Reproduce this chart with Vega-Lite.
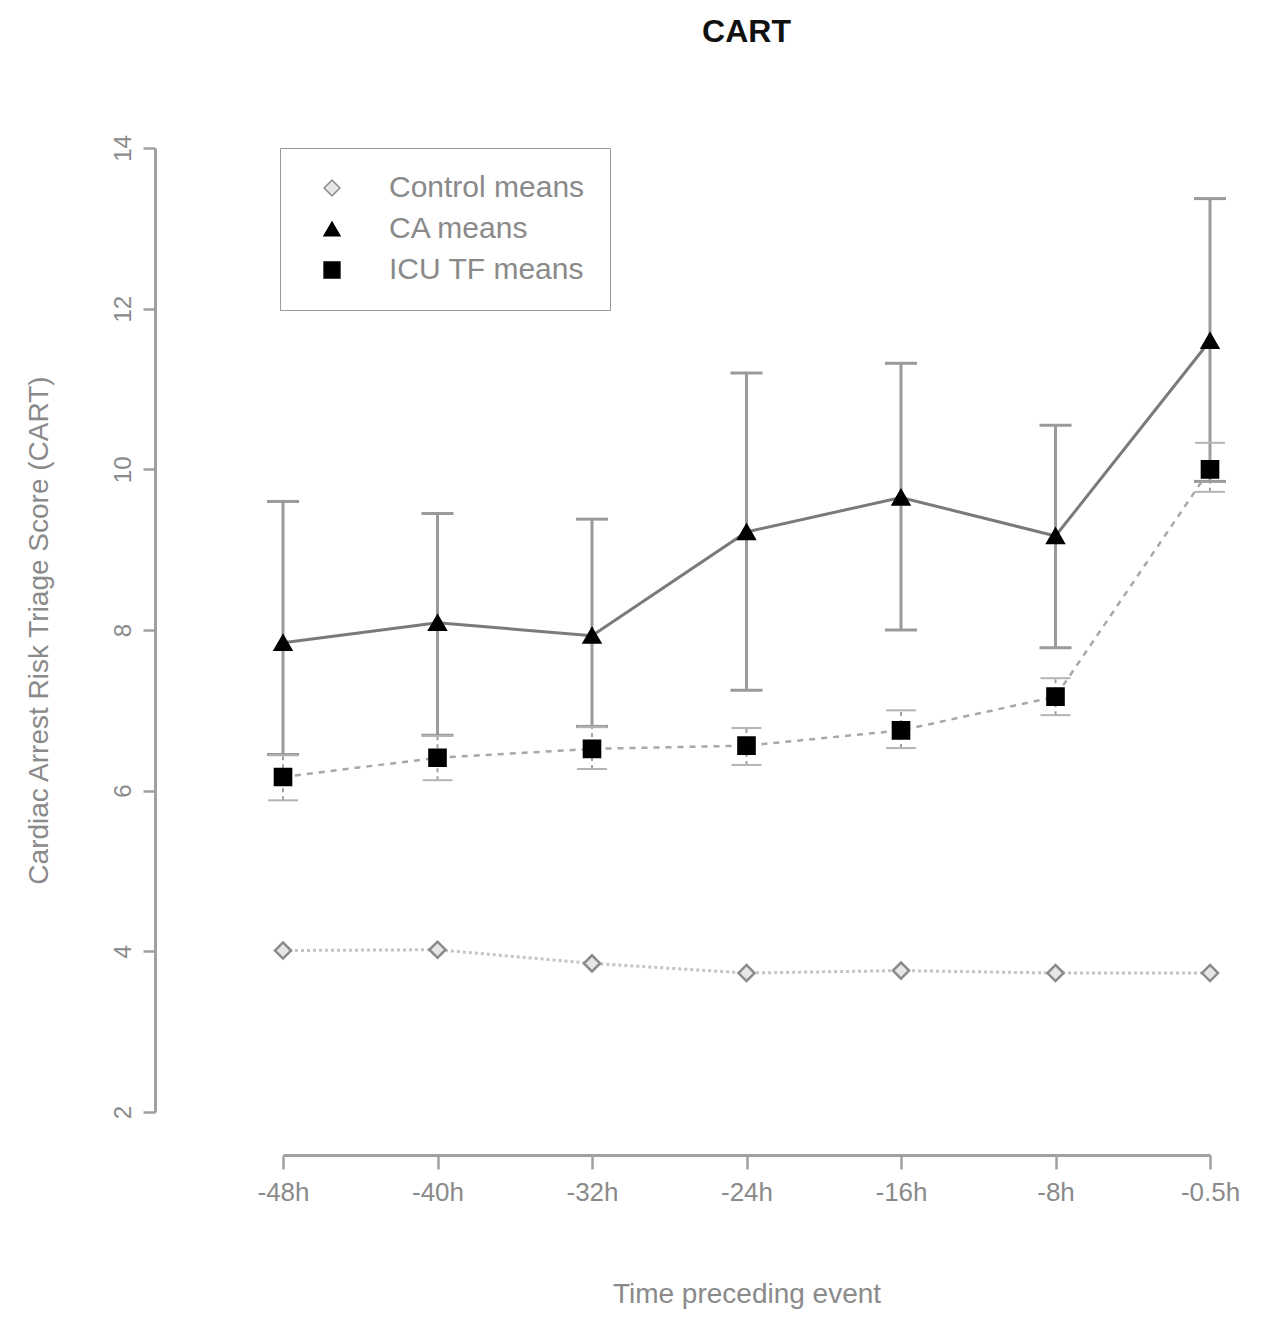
{
  "$schema": "https://vega.github.io/schema/vega-lite/v6.json",
  "width": 927,
  "height": 964,
  "autosize": {"type": "none"},
  "padding": {"left": 283, "top": 148, "right": 54, "bottom": 207},
  "background": "white",
  "title": {"text": "CART", "fontSize": 32, "fontWeight": "bold", "font": "Liberation Sans", "color": "#111111", "offset": 86, "anchor": "middle", "frame": "group"},
  "config": {
    "view": {"stroke": null},
    "font": "Liberation Sans"
  },
  "data": {"values": [
    {"time": "-48h", "series": "Control means", "mean": 4.01},
    {"time": "-40h", "series": "Control means", "mean": 4.02},
    {"time": "-32h", "series": "Control means", "mean": 3.85},
    {"time": "-24h", "series": "Control means", "mean": 3.73},
    {"time": "-16h", "series": "Control means", "mean": 3.76},
    {"time": "-8h", "series": "Control means", "mean": 3.73},
    {"time": "-0.5h", "series": "Control means", "mean": 3.73},
    {"time": "-48h", "series": "CA means", "mean": 7.84, "lo": 6.45, "hi": 9.6},
    {"time": "-40h", "series": "CA means", "mean": 8.09, "lo": 6.69, "hi": 9.45},
    {"time": "-32h", "series": "CA means", "mean": 7.93, "lo": 6.8, "hi": 9.38},
    {"time": "-24h", "series": "CA means", "mean": 9.22, "lo": 7.25, "hi": 11.2},
    {"time": "-16h", "series": "CA means", "mean": 9.65, "lo": 8.0, "hi": 11.32},
    {"time": "-8h", "series": "CA means", "mean": 9.17, "lo": 7.78, "hi": 10.55},
    {"time": "-0.5h", "series": "CA means", "mean": 11.6, "lo": 9.85, "hi": 13.37},
    {"time": "-48h", "series": "ICU TF means", "mean": 6.17, "lo": 5.88, "hi": 6.44},
    {"time": "-40h", "series": "ICU TF means", "mean": 6.41, "lo": 6.13, "hi": 6.68},
    {"time": "-32h", "series": "ICU TF means", "mean": 6.52, "lo": 6.27, "hi": 6.79},
    {"time": "-24h", "series": "ICU TF means", "mean": 6.56, "lo": 6.32, "hi": 6.78},
    {"time": "-16h", "series": "ICU TF means", "mean": 6.75, "lo": 6.53, "hi": 7.0},
    {"time": "-8h", "series": "ICU TF means", "mean": 7.17, "lo": 6.94, "hi": 7.4},
    {"time": "-0.5h", "series": "ICU TF means", "mean": 10.0, "lo": 9.72, "hi": 10.33}
  ]},
  "encoding": {
    "x": {
      "field": "time", "type": "ordinal",
      "sort": ["-48h", "-40h", "-32h", "-24h", "-16h", "-8h", "-0.5h"],
      "scale": {"type": "point", "padding": 0},
      "axis": {
        "title": "Time preceding event", "offset": 43, "grid": false,
        "domainColor": "#a0a0a0", "domainWidth": 3,
        "tickColor": "#a0a0a0", "tickWidth": 2.5, "tickSize": 14,
        "labelFontSize": 26, "labelColor": "#8a8a8a", "labelPadding": 10, "labelAngle": 0,
        "titleFontSize": 28, "titleColor": "#8a8a8a", "titleFontWeight": "normal", "titlePadding": 75
      }
    }
  },
  "layer": [
    {
      "transform": [{"filter": "datum.series == 'CA means'"}],
      "mark": {"type": "rule", "color": "#9a9a9a", "strokeWidth": 3},
      "encoding": {
        "y": {"field": "lo", "type": "quantitative", "scale": {"domain": [2, 14], "nice": false, "zero": false},
          "axis": {
            "title": "Cardiac Arrest Risk Triage Score (CART)", "offset": 128, "grid": false,
            "values": [2, 4, 6, 8, 10, 12, 14], "format": "d",
            "domainColor": "#a0a0a0", "domainWidth": 3,
            "tickColor": "#a0a0a0", "tickWidth": 2.5, "tickSize": 12,
            "labelFontSize": 24, "labelColor": "#8a8a8a", "labelAngle": 270, "labelAlign": "center", "labelBaseline": "bottom", "labelPadding": 8,
            "titleFontSize": 28, "titleColor": "#8a8a8a", "titleFontWeight": "normal", "titlePadding": 58
          }},
        "y2": {"field": "hi"}
      }
    },
    {
      "transform": [{"filter": "datum.series == 'ICU TF means'"}],
      "mark": {"type": "rule", "color": "#a0a0a0", "strokeWidth": 2, "strokeDash": [4, 4]},
      "encoding": {
        "y": {"field": "lo", "type": "quantitative"},
        "y2": {"field": "hi"}
      }
    },
    {
      "transform": [{"filter": "datum.series == 'CA means'"}, {"fold": ["lo", "hi"], "as": ["end", "val"]}],
      "mark": {"type": "tick", "color": "#9a9a9a", "size": 32, "thickness": 3, "opacity": 1},
      "encoding": {"y": {"field": "val", "type": "quantitative"}}
    },
    {
      "transform": [{"filter": "datum.series == 'ICU TF means'"}, {"fold": ["lo", "hi"], "as": ["end", "val"]}],
      "mark": {"type": "tick", "color": "#b4b4b4", "size": 30, "thickness": 2, "opacity": 1},
      "encoding": {"y": {"field": "val", "type": "quantitative"}}
    },
    {
      "transform": [{"filter": "datum.series == 'Control means'"}],
      "mark": {"type": "line", "color": "#c4c4c4", "strokeWidth": 3, "strokeDash": [3, 3]},
      "encoding": {"y": {"field": "mean", "type": "quantitative"}}
    },
    {
      "transform": [{"filter": "datum.series == 'ICU TF means'"}],
      "mark": {"type": "line", "color": "#a8a8a8", "strokeWidth": 2.5, "strokeDash": [6, 6]},
      "encoding": {"y": {"field": "mean", "type": "quantitative"}}
    },
    {
      "transform": [{"filter": "datum.series == 'CA means'"}],
      "mark": {"type": "line", "color": "#7a7a7a", "strokeWidth": 3},
      "encoding": {"y": {"field": "mean", "type": "quantitative"}}
    },
    {
      "mark": {"type": "point", "strokeWidth": 2.5, "opacity": 1, "size": 260},
      "encoding": {
        "y": {"field": "mean", "type": "quantitative"},
        "shape": {"field": "series", "type": "nominal",
          "scale": {"domain": ["Control means", "CA means", "ICU TF means"], "range": ["diamond", "triangle-up", "square"]},
          "legend": {"title": null, "orient": "none", "legendX": -3, "legendY": 0, "strokeColor": "#999999", "padding": 25, "labelFontSize": 30, "labelColor": "#8a8a8a", "labelLimit": 400, "symbolSize": 250, "rowPadding": 11, "labelOffset": 42, "symbolOffset": 12}},
        "fill": {"field": "series", "type": "nominal",
          "scale": {"domain": ["Control means", "CA means", "ICU TF means"], "range": ["#e6e6e6", "#000000", "#000000"]},
          "legend": {"title": null, "orient": "none", "legendX": -3, "legendY": 0, "strokeColor": "#999999", "padding": 25, "labelFontSize": 30, "labelColor": "#8a8a8a", "labelLimit": 400, "symbolSize": 250, "rowPadding": 11, "labelOffset": 42, "symbolOffset": 12}},
        "stroke": {"field": "series", "type": "nominal",
          "scale": {"domain": ["Control means", "CA means", "ICU TF means"], "range": ["#8a8a8a", "#000000", "#000000"]},
          "legend": {"title": null, "orient": "none", "legendX": -3, "legendY": 0, "strokeColor": "#999999", "padding": 25, "labelFontSize": 30, "labelColor": "#8a8a8a", "labelLimit": 400, "symbolSize": 250, "rowPadding": 11, "labelOffset": 42, "symbolOffset": 12}}
      }
    }
  ]
}
